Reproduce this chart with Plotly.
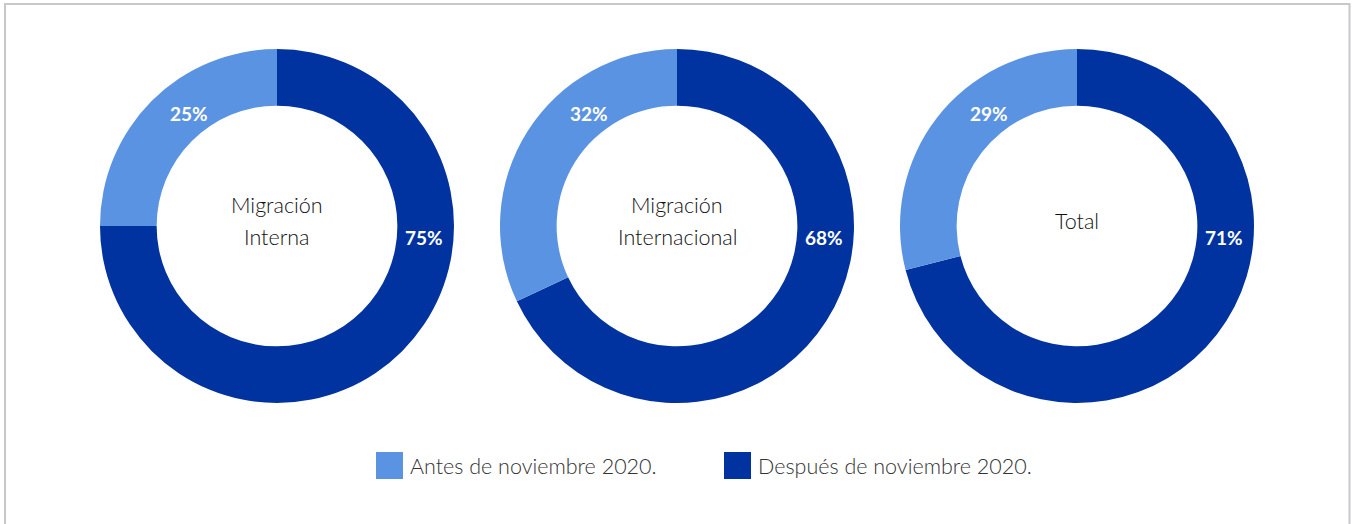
import plotly.graph_objects as go

# ---- data ----
categories = ["Antes de noviembre 2020.", "Después de noviembre 2020."]
chart_titles = ["Migración<br>Interna", "Migración<br>Internacional", "Total"]
antes = [25, 32, 29]
despues = [75, 68, 71]

# ---- style ----
colors = ["#5B93E3", "#0033A0"]
W, H = 1357, 524
centers_px = [277, 677, 1077]
cy_px = 226
R = 177
title_line_gap = 32
font_family = "Lato, 'Open Sans', sans-serif"

def px(x):
    return x / W

def py(y):
    return 1 - y / H

fig = go.Figure()
for i, cx in enumerate(centers_px):
    fig.add_trace(go.Pie(
        values=[despues[i], antes[i]],
        labels=[categories[1], categories[0]],
        marker=dict(colors=[colors[1], colors[0]], line=dict(width=0)),
        hole=0.68,
        sort=False,
        direction="clockwise",
        rotation=0,
        textinfo="none",
        hoverinfo="label+percent",
        showlegend=False,
        domain=dict(x=[px(cx - R), px(cx + R)], y=[py(cy_px + R), py(cy_px - R)]),
    ))
    # percentage labels
    fig.add_annotation(x=px(cx - 88), y=py(113), xref="paper", yref="paper",
                       xanchor="center", yanchor="middle",
                       text=f"<b>{antes[i]}%</b>", showarrow=False,
                       font=dict(family=font_family, size=19, color="white"))
    fig.add_annotation(x=px(cx + 147), y=py(237), xref="paper", yref="paper",
                       xanchor="center", yanchor="middle",
                       text=f"<b>{despues[i]}%</b>", showarrow=False,
                       font=dict(family=font_family, size=19, color="white"))
    # centre title (one annotation per line for exact line spacing)
    lines = chart_titles[i].split("<br>")
    first_y = 221 - title_line_gap * (len(lines) - 1) / 2
    for k, line in enumerate(lines):
        fig.add_annotation(x=px(cx), y=py(first_y + k * title_line_gap),
                           xref="paper", yref="paper",
                           xanchor="center", yanchor="middle",
                           text=line, showarrow=False,
                           font=dict(family=font_family, size=21.5, color="#111111", weight=300))

# legend (squares + text)
legend_sq_x = [376, 724]
for j, lab in enumerate(categories):
    x0 = legend_sq_x[j]
    fig.add_shape(type="rect", xref="paper", yref="paper",
                  x0=px(x0), x1=px(x0 + 27), y0=py(479), y1=py(452),
                  fillcolor=colors[j], line=dict(width=0))
    fig.add_annotation(x=px(x0 + 32), y=py(466), xref="paper", yref="paper",
                       text=lab, showarrow=False, xanchor="left", yanchor="middle",
                       font=dict(family=font_family, size=21.5, color="#333333", weight=300))

# outer frame
fig.add_shape(type="rect", xref="paper", yref="paper",
              x0=px(5), x1=px(1349.5), y0=-0.05, y1=py(4),
              line=dict(color="#C8C8CC", width=2), fillcolor="rgba(0,0,0,0)")

fig.update_layout(
    width=W, height=H,
    margin=dict(l=0, r=0, t=0, b=0),
    paper_bgcolor="white",
    plot_bgcolor="white",
    showlegend=False,
)

fig.write_html("out.html", config={"displayModeBar": False},
               post_script="document.body.style.margin='0px';document.body.style.overflow='hidden';")
